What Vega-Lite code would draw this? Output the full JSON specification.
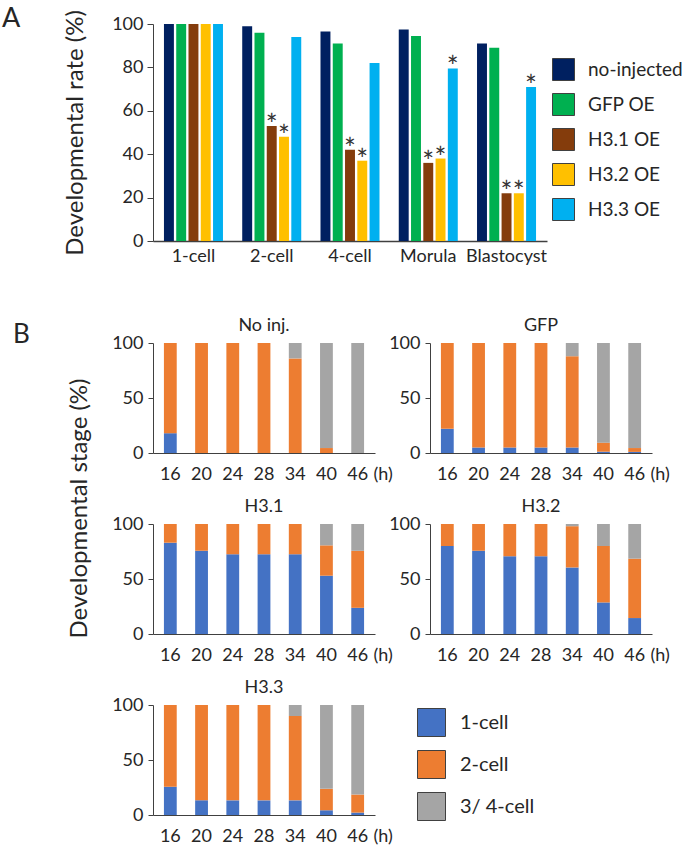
{
  "$schema": "https://vega.github.io/schema/vega-lite/v6.json",
  "background": "white",
  "padding": {"left": 2, "top": 4, "right": 0, "bottom": 0},
  "config": {
    "font": "Lato",
    "view": {"stroke": null},
    "axis": {"labelFont": "Lato", "titleFont": "Lato", "labelColor": "#262626", "titleColor": "#262626", "domainColor": "#404040", "tickColor": "#404040", "grid": false, "labelFontSize": 18, "titleFontWeight": "normal", "titleFontSize": 24},
    "legend": {"labelFont": "Lato", "labelColor": "#262626"},
    "title": {"font": "Lato", "fontWeight": "normal", "color": "#262626"}
  },
  "datasets": {
    "rates": [
      {"stage": "1-cell", "group": "no-injected", "value": 100, "sig": 0},
      {"stage": "1-cell", "group": "GFP OE", "value": 100, "sig": 0},
      {"stage": "1-cell", "group": "H3.1 OE", "value": 100, "sig": 0},
      {"stage": "1-cell", "group": "H3.2 OE", "value": 100, "sig": 0},
      {"stage": "1-cell", "group": "H3.3 OE", "value": 100, "sig": 0},
      {"stage": "2-cell", "group": "no-injected", "value": 99, "sig": 0},
      {"stage": "2-cell", "group": "GFP OE", "value": 96, "sig": 0},
      {"stage": "2-cell", "group": "H3.1 OE", "value": 53, "sig": 1},
      {"stage": "2-cell", "group": "H3.2 OE", "value": 48, "sig": 1},
      {"stage": "2-cell", "group": "H3.3 OE", "value": 94, "sig": 0},
      {"stage": "4-cell", "group": "no-injected", "value": 96.5, "sig": 0},
      {"stage": "4-cell", "group": "GFP OE", "value": 91, "sig": 0},
      {"stage": "4-cell", "group": "H3.1 OE", "value": 42, "sig": 1},
      {"stage": "4-cell", "group": "H3.2 OE", "value": 37, "sig": 1},
      {"stage": "4-cell", "group": "H3.3 OE", "value": 82, "sig": 0},
      {"stage": "Morula", "group": "no-injected", "value": 97.5, "sig": 0},
      {"stage": "Morula", "group": "GFP OE", "value": 94.5, "sig": 0},
      {"stage": "Morula", "group": "H3.1 OE", "value": 36, "sig": 1},
      {"stage": "Morula", "group": "H3.2 OE", "value": 38, "sig": 1},
      {"stage": "Morula", "group": "H3.3 OE", "value": 79.5, "sig": 1},
      {"stage": "Blastocyst", "group": "no-injected", "value": 91, "sig": 0},
      {"stage": "Blastocyst", "group": "GFP OE", "value": 89, "sig": 0},
      {"stage": "Blastocyst", "group": "H3.1 OE", "value": 22, "sig": 1},
      {"stage": "Blastocyst", "group": "H3.2 OE", "value": 22, "sig": 1},
      {"stage": "Blastocyst", "group": "H3.3 OE", "value": 71, "sig": 1}
    ],
    "stages": [
      {"panel": "No inj.", "h": "16", "stage": "1-cell", "ord": 1, "v": 18},
      {"panel": "No inj.", "h": "16", "stage": "2-cell", "ord": 2, "v": 82},
      {"panel": "No inj.", "h": "20", "stage": "2-cell", "ord": 2, "v": 100},
      {"panel": "No inj.", "h": "24", "stage": "2-cell", "ord": 2, "v": 100},
      {"panel": "No inj.", "h": "28", "stage": "2-cell", "ord": 2, "v": 100},
      {"panel": "No inj.", "h": "34", "stage": "2-cell", "ord": 2, "v": 86},
      {"panel": "No inj.", "h": "34", "stage": "3/ 4-cell", "ord": 3, "v": 14},
      {"panel": "No inj.", "h": "40", "stage": "2-cell", "ord": 2, "v": 4.5},
      {"panel": "No inj.", "h": "40", "stage": "3/ 4-cell", "ord": 3, "v": 95.5},
      {"panel": "No inj.", "h": "46", "stage": "3/ 4-cell", "ord": 3, "v": 100},

      {"panel": "GFP", "h": "16", "stage": "1-cell", "ord": 1, "v": 22},
      {"panel": "GFP", "h": "16", "stage": "2-cell", "ord": 2, "v": 78},
      {"panel": "GFP", "h": "20", "stage": "1-cell", "ord": 1, "v": 5},
      {"panel": "GFP", "h": "20", "stage": "2-cell", "ord": 2, "v": 95},
      {"panel": "GFP", "h": "24", "stage": "1-cell", "ord": 1, "v": 5},
      {"panel": "GFP", "h": "24", "stage": "2-cell", "ord": 2, "v": 95},
      {"panel": "GFP", "h": "28", "stage": "1-cell", "ord": 1, "v": 5},
      {"panel": "GFP", "h": "28", "stage": "2-cell", "ord": 2, "v": 95},
      {"panel": "GFP", "h": "34", "stage": "1-cell", "ord": 1, "v": 5},
      {"panel": "GFP", "h": "34", "stage": "2-cell", "ord": 2, "v": 83},
      {"panel": "GFP", "h": "34", "stage": "3/ 4-cell", "ord": 3, "v": 12},
      {"panel": "GFP", "h": "40", "stage": "1-cell", "ord": 1, "v": 1.2},
      {"panel": "GFP", "h": "40", "stage": "2-cell", "ord": 2, "v": 8.2},
      {"panel": "GFP", "h": "40", "stage": "3/ 4-cell", "ord": 3, "v": 90.6},
      {"panel": "GFP", "h": "46", "stage": "1-cell", "ord": 1, "v": 1},
      {"panel": "GFP", "h": "46", "stage": "2-cell", "ord": 2, "v": 3.5},
      {"panel": "GFP", "h": "46", "stage": "3/ 4-cell", "ord": 3, "v": 95.5},

      {"panel": "H3.1", "h": "16", "stage": "1-cell", "ord": 1, "v": 83},
      {"panel": "H3.1", "h": "16", "stage": "2-cell", "ord": 2, "v": 17},
      {"panel": "H3.1", "h": "20", "stage": "1-cell", "ord": 1, "v": 75.6},
      {"panel": "H3.1", "h": "20", "stage": "2-cell", "ord": 2, "v": 24.4},
      {"panel": "H3.1", "h": "24", "stage": "1-cell", "ord": 1, "v": 72.5},
      {"panel": "H3.1", "h": "24", "stage": "2-cell", "ord": 2, "v": 27.5},
      {"panel": "H3.1", "h": "28", "stage": "1-cell", "ord": 1, "v": 72.5},
      {"panel": "H3.1", "h": "28", "stage": "2-cell", "ord": 2, "v": 27.5},
      {"panel": "H3.1", "h": "34", "stage": "1-cell", "ord": 1, "v": 72.5},
      {"panel": "H3.1", "h": "34", "stage": "2-cell", "ord": 2, "v": 27.5},
      {"panel": "H3.1", "h": "40", "stage": "1-cell", "ord": 1, "v": 53},
      {"panel": "H3.1", "h": "40", "stage": "2-cell", "ord": 2, "v": 27.6},
      {"panel": "H3.1", "h": "40", "stage": "3/ 4-cell", "ord": 3, "v": 19.4},
      {"panel": "H3.1", "h": "46", "stage": "1-cell", "ord": 1, "v": 23.8},
      {"panel": "H3.1", "h": "46", "stage": "2-cell", "ord": 2, "v": 51.8},
      {"panel": "H3.1", "h": "46", "stage": "3/ 4-cell", "ord": 3, "v": 24.4},

      {"panel": "H3.2", "h": "16", "stage": "1-cell", "ord": 1, "v": 80},
      {"panel": "H3.2", "h": "16", "stage": "2-cell", "ord": 2, "v": 20},
      {"panel": "H3.2", "h": "20", "stage": "1-cell", "ord": 1, "v": 75.6},
      {"panel": "H3.2", "h": "20", "stage": "2-cell", "ord": 2, "v": 24.4},
      {"panel": "H3.2", "h": "24", "stage": "1-cell", "ord": 1, "v": 70.7},
      {"panel": "H3.2", "h": "24", "stage": "2-cell", "ord": 2, "v": 29.3},
      {"panel": "H3.2", "h": "28", "stage": "1-cell", "ord": 1, "v": 70.7},
      {"panel": "H3.2", "h": "28", "stage": "2-cell", "ord": 2, "v": 29.3},
      {"panel": "H3.2", "h": "34", "stage": "1-cell", "ord": 1, "v": 60.5},
      {"panel": "H3.2", "h": "34", "stage": "2-cell", "ord": 2, "v": 37.5},
      {"panel": "H3.2", "h": "34", "stage": "3/ 4-cell", "ord": 3, "v": 2},
      {"panel": "H3.2", "h": "40", "stage": "1-cell", "ord": 1, "v": 28.7},
      {"panel": "H3.2", "h": "40", "stage": "2-cell", "ord": 2, "v": 51.3},
      {"panel": "H3.2", "h": "40", "stage": "3/ 4-cell", "ord": 3, "v": 20},
      {"panel": "H3.2", "h": "46", "stage": "1-cell", "ord": 1, "v": 14.5},
      {"panel": "H3.2", "h": "46", "stage": "2-cell", "ord": 2, "v": 54},
      {"panel": "H3.2", "h": "46", "stage": "3/ 4-cell", "ord": 3, "v": 31.5},

      {"panel": "H3.3", "h": "16", "stage": "1-cell", "ord": 1, "v": 25.7},
      {"panel": "H3.3", "h": "16", "stage": "2-cell", "ord": 2, "v": 74.3},
      {"panel": "H3.3", "h": "20", "stage": "1-cell", "ord": 1, "v": 13.3},
      {"panel": "H3.3", "h": "20", "stage": "2-cell", "ord": 2, "v": 86.7},
      {"panel": "H3.3", "h": "24", "stage": "1-cell", "ord": 1, "v": 13.3},
      {"panel": "H3.3", "h": "24", "stage": "2-cell", "ord": 2, "v": 86.7},
      {"panel": "H3.3", "h": "28", "stage": "1-cell", "ord": 1, "v": 13.3},
      {"panel": "H3.3", "h": "28", "stage": "2-cell", "ord": 2, "v": 86.7},
      {"panel": "H3.3", "h": "34", "stage": "1-cell", "ord": 1, "v": 13.3},
      {"panel": "H3.3", "h": "34", "stage": "2-cell", "ord": 2, "v": 76.7},
      {"panel": "H3.3", "h": "34", "stage": "3/ 4-cell", "ord": 3, "v": 10},
      {"panel": "H3.3", "h": "40", "stage": "1-cell", "ord": 1, "v": 4.3},
      {"panel": "H3.3", "h": "40", "stage": "2-cell", "ord": 2, "v": 19.5},
      {"panel": "H3.3", "h": "40", "stage": "3/ 4-cell", "ord": 3, "v": 76.2},
      {"panel": "H3.3", "h": "46", "stage": "1-cell", "ord": 1, "v": 2.2},
      {"panel": "H3.3", "h": "46", "stage": "2-cell", "ord": 2, "v": 16.4},
      {"panel": "H3.3", "h": "46", "stage": "3/ 4-cell", "ord": 3, "v": 81.4}
    ]
  },
  "resolve": {"scale": {"color": "independent"}, "legend": {"color": "independent"}},
  "columns": 1,
  "align": "none",
  "spacing": 52,
  "concat": [
    {
      "title": {"text": "A", "anchor": "start", "frame": "group", "fontSize": 27, "dx": -151, "dy": 23, "offset": 0},
      "width": 394,
      "height": 217,
      "data": {"name": "rates"},
      "encoding": {
        "x": {"field": "stage", "type": "nominal", "sort": ["1-cell", "2-cell", "4-cell", "Morula", "Blastocyst"], "scale": {"paddingInner": 0.246, "paddingOuter": 0.14},
          "axis": {"title": null, "labelAngle": 0, "ticks": false, "labelPadding": 6, "domainWidth": 1.5}},
        "xOffset": {"field": "group", "type": "nominal", "sort": ["no-injected", "GFP OE", "H3.1 OE", "H3.2 OE", "H3.3 OE"], "scale": {"paddingInner": 0.19, "paddingOuter": 0}},
        "y": {"field": "value", "type": "quantitative", "scale": {"domain": [0, 100]},
          "axis": {"title": "Developmental rate (%)", "values": [0, 20, 40, 60, 80, 100], "tickSize": 6, "labelPadding": 4, "titleX": -78, "titleY": 108.5, "titleAngle": 270, "titleBaseline": "middle", "titleAlign": "center"}}
      },
      "layer": [
        {
          "mark": {"type": "bar"},
          "encoding": {
            "color": {"field": "group", "type": "nominal",
              "scale": {"domain": ["no-injected", "GFP OE", "H3.1 OE", "H3.2 OE", "H3.3 OE"], "range": ["#002060", "#00B050", "#843C0C", "#FFC000", "#00B0F0"]},
              "legend": {"title": null, "orient": "none", "legendX": 399, "legendY": 34, "symbolType": "square", "symbolSize": 484, "symbolStrokeColor": "#404040", "symbolStrokeWidth": 1, "labelFontSize": 19, "labelOffset": 13, "rowPadding": 8,
                "encode": {"symbols": {"update": {"stroke": {"value": "#404040"}, "strokeWidth": {"value": 1}}}}}
            }
          }
        },
        {
          "transform": [{"filter": "datum.sig == 1"}],
          "mark": {"type": "text", "text": "*", "fontSize": 28, "dy": 9, "baseline": "alphabetic", "color": "#333333"}
        }
      ]
    },
    {
      "title": {"text": "\u00a0\u00a0B", "anchor": "start", "frame": "group", "fontSize": 26, "dx": -140, "dy": 31, "offset": 0},
      "data": {"name": "stages"},
      "columns": 2,
      "spacing": {"row": 71, "column": 55},
      "bounds": "flush",
      "concat": [
        {
          "title": {"text": "No inj.", "fontSize": 18, "offset": -1},
          "width": 222, "height": 110,
          "transform": [{"filter": "datum.panel == 'No inj.'"}],
          "mark": {"type": "bar"},
          "encoding": {
            "x": {"field": "h", "type": "ordinal", "sort": ["16", "20", "24", "28", "34", "40", "46"], "scale": {"paddingInner": 0.59, "paddingOuter": 0.35},
              "axis": {"title": "(h)", "labelAngle": 0, "ticks": false, "labelPadding": 12, "titleX": 220, "titleY": 12, "titleAlign": "left", "titleBaseline": "top", "titleAngle": 0, "titleFontSize": 18}},
            "y": {"field": "v", "type": "quantitative", "stack": "zero", "scale": {"domain": [0, 100]},
              "axis": {"title": "Developmental stage (%)", "values": [0, 50, 100], "tickSize": 5, "labelPadding": 5, "titleX": -74, "titleY": 165, "titleAngle": 270, "titleBaseline": "middle", "titleAlign": "center"}},
            "color": {"field": "stage", "type": "nominal", "scale": {"domain": ["1-cell", "2-cell", "3/ 4-cell"], "range": ["#4472C4", "#ED7D31", "#A5A5A5"]},
              "legend": {"title": null, "orient": "none", "legendX": 264, "legendY": 365, "symbolType": "square", "symbolSize": 784, "labelFontSize": 20, "labelOffset": 14, "rowPadding": 9,
                "encode": {"symbols": {"update": {"stroke": {"value": "#404040"}, "strokeWidth": {"value": 1}}}}}},
            "order": {"field": "ord", "type": "quantitative", "sort": "ascending"}
          }
        },
        {
          "title": {"text": "GFP", "fontSize": 18, "offset": -1},
          "width": 222, "height": 110,
          "transform": [{"filter": "datum.panel == 'GFP'"}],
          "mark": {"type": "bar"},
          "encoding": {
            "x": {"field": "h", "type": "ordinal", "sort": ["16", "20", "24", "28", "34", "40", "46"], "scale": {"paddingInner": 0.59, "paddingOuter": 0.35},
              "axis": {"title": "(h)", "labelAngle": 0, "ticks": false, "labelPadding": 12, "titleX": 220, "titleY": 12, "titleAlign": "left", "titleBaseline": "top", "titleAngle": 0, "titleFontSize": 18}},
            "y": {"field": "v", "type": "quantitative", "stack": "zero", "scale": {"domain": [0, 100]}, "axis": {"title": null, "values": [0, 50, 100], "tickSize": 5, "labelPadding": 5}},
            "color": {"field": "stage", "type": "nominal", "scale": {"domain": ["1-cell", "2-cell", "3/ 4-cell"], "range": ["#4472C4", "#ED7D31", "#A5A5A5"]}},
            "order": {"field": "ord", "type": "quantitative", "sort": "ascending"}
          }
        },
        {
          "title": {"text": "H3.1", "fontSize": 18, "offset": -1},
          "width": 222, "height": 110,
          "transform": [{"filter": "datum.panel == 'H3.1'"}],
          "mark": {"type": "bar"},
          "encoding": {
            "x": {"field": "h", "type": "ordinal", "sort": ["16", "20", "24", "28", "34", "40", "46"], "scale": {"paddingInner": 0.59, "paddingOuter": 0.35},
              "axis": {"title": "(h)", "labelAngle": 0, "ticks": false, "labelPadding": 12, "titleX": 220, "titleY": 12, "titleAlign": "left", "titleBaseline": "top", "titleAngle": 0, "titleFontSize": 18}},
            "y": {"field": "v", "type": "quantitative", "stack": "zero", "scale": {"domain": [0, 100]}, "axis": {"title": null, "values": [0, 50, 100], "tickSize": 5, "labelPadding": 5}},
            "color": {"field": "stage", "type": "nominal", "scale": {"domain": ["1-cell", "2-cell", "3/ 4-cell"], "range": ["#4472C4", "#ED7D31", "#A5A5A5"]}},
            "order": {"field": "ord", "type": "quantitative", "sort": "ascending"}
          }
        },
        {
          "title": {"text": "H3.2", "fontSize": 18, "offset": -1},
          "width": 222, "height": 110,
          "transform": [{"filter": "datum.panel == 'H3.2'"}],
          "mark": {"type": "bar"},
          "encoding": {
            "x": {"field": "h", "type": "ordinal", "sort": ["16", "20", "24", "28", "34", "40", "46"], "scale": {"paddingInner": 0.59, "paddingOuter": 0.35},
              "axis": {"title": "(h)", "labelAngle": 0, "ticks": false, "labelPadding": 12, "titleX": 220, "titleY": 12, "titleAlign": "left", "titleBaseline": "top", "titleAngle": 0, "titleFontSize": 18}},
            "y": {"field": "v", "type": "quantitative", "stack": "zero", "scale": {"domain": [0, 100]}, "axis": {"title": null, "values": [0, 50, 100], "tickSize": 5, "labelPadding": 5}},
            "color": {"field": "stage", "type": "nominal", "scale": {"domain": ["1-cell", "2-cell", "3/ 4-cell"], "range": ["#4472C4", "#ED7D31", "#A5A5A5"]}},
            "order": {"field": "ord", "type": "quantitative", "sort": "ascending"}
          }
        },
        {
          "title": {"text": "H3.3", "fontSize": 18, "offset": -1},
          "width": 222, "height": 110,
          "transform": [{"filter": "datum.panel == 'H3.3'"}],
          "mark": {"type": "bar"},
          "encoding": {
            "x": {"field": "h", "type": "ordinal", "sort": ["16", "20", "24", "28", "34", "40", "46"], "scale": {"paddingInner": 0.59, "paddingOuter": 0.35},
              "axis": {"title": "(h)", "labelAngle": 0, "ticks": false, "labelPadding": 12, "titleX": 220, "titleY": 12, "titleAlign": "left", "titleBaseline": "top", "titleAngle": 0, "titleFontSize": 18}},
            "y": {"field": "v", "type": "quantitative", "stack": "zero", "scale": {"domain": [0, 100]}, "axis": {"title": null, "values": [0, 50, 100], "tickSize": 5, "labelPadding": 5}},
            "color": {"field": "stage", "type": "nominal", "scale": {"domain": ["1-cell", "2-cell", "3/ 4-cell"], "range": ["#4472C4", "#ED7D31", "#A5A5A5"]}},
            "order": {"field": "ord", "type": "quantitative", "sort": "ascending"}
          }
        }
      ]
    }
  ]
}
